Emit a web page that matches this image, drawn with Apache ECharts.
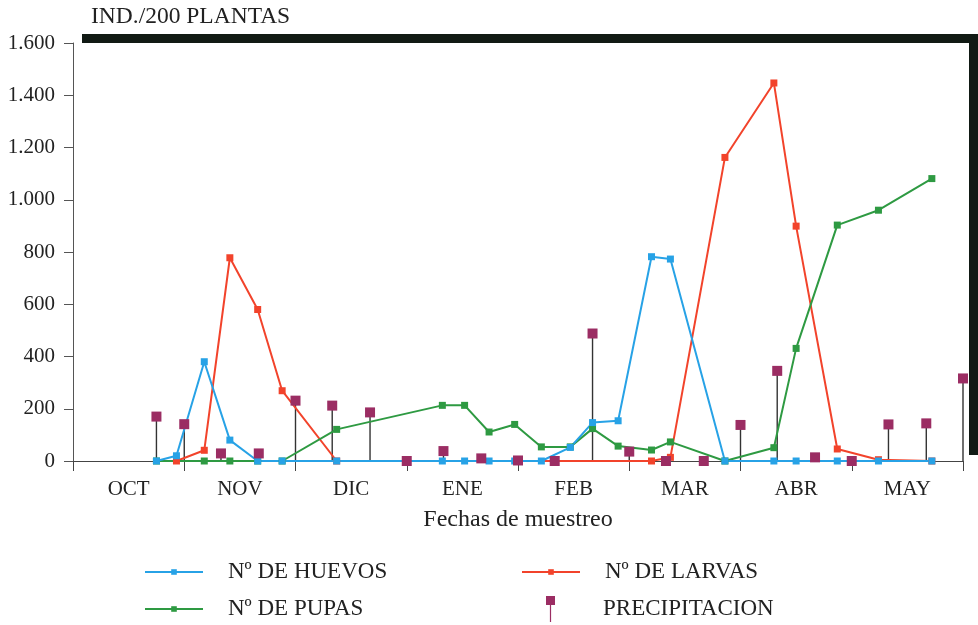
<!DOCTYPE html>
<html>
<head>
<meta charset="utf-8">
<script src="https://cdn.jsdelivr.net/npm/echarts@6/dist/echarts.min.js"></script>
<style>
  html, body { margin: 0; padding: 0; background: #ffffff; }
  #chart { width: 978px; height: 625px; }
</style>
</head>
<body>
<div id="chart"></div>
<script>
// Months of the season (x axis runs in months counted from 1 October)
const meses = ['OCT', 'NOV', 'DIC', 'ENE', 'FEB', 'MAR', 'ABR', 'MAY'];

// Sampling dates, in months since 1 October
const fechasMuestreo = [0.75, 0.93, 1.18, 1.41, 1.66, 1.88, 2.37, 3.32, 3.52, 3.74, 3.97, 4.21,
                        4.47, 4.67, 4.90, 5.20, 5.37, 5.86, 6.30, 6.50, 6.87, 7.24, 7.72];

// Individuals per 200 plants
const huevos = [0, 20, 380, 80, 0, 0, 0, 0, 0, 0, 0, 0,
                52, 147, 154, 782, 773, 0, 0, 0, 0, 0, 0];
const larvas = [null, 0, 41, 778, 580, 269, 0, null, null, null, null, null,
                null, null, null, 0, 14, 1162, 1447, 899, 46, 5, 0];
const pupas  = [0, null, 0, 0, 0, 0, 121, 213, 213, 111, 140, 54,
                54, 124, 57, 42, 73, 0, 51, 431, 903, 960, 1081];

// Rainfall by ten-day period (end of each period, months since 1 October)
const fechasPrecip = [0.75, 1.00, 1.33, 1.67, 2.00, 2.33, 2.67, 3.00, 3.33, 3.67, 4.00, 4.33,
                      4.67, 5.00, 5.33, 5.67, 6.00, 6.33, 6.67, 7.00, 7.33, 7.67, 8.00];
const precipitacion = [170, 141, 29, 29, 231, 212, 186, 0, 38, 10, 2, 0,
                       488, 36, 0, 0, 138, 345, 14, 0, 140, 144, 316];

const FONT = 'Liberation Serif';
const TEXT = '#222222';
const AZUL = '#27a2e6';
const ROJO = '#f2432b';
const VERDE = '#2e9a42';
const MORADO = '#9b2d63';
const NEGRO = '#111a14';

const pares = (xs, ys) => xs.map((x, i) => [x, ys[i]]);
const miles = v => String(v).replace(/\B(?=(\d{3})+(?!\d))/g, '.');

// ticks at month boundaries, month names centred in each month
const limitesMes = meses.map((m, i) => i).concat(meses.length);
const centrosMes = meses.map((m, i) => i + 0.5);

const lineSeries = (name, values, color) => ({
  type: 'line',
  name: name,
  data: pares(fechasMuestreo, values),
  connectNulls: true,
  symbol: 'rect',
  symbolSize: 7,
  lineStyle: { width: 2, color: color },
  itemStyle: { color: color },
  z: 2
});

// one legend entry per component, laid out in two columns
const entrada = (item, left, top, itemWidth, itemHeight, gap) => ({
  data: [item],
  orient: 'horizontal',
  left: left,
  top: top,
  padding: 0,
  itemWidth: itemWidth,
  itemHeight: itemHeight,
  selectedMode: false,
  textStyle: { fontFamily: FONT, fontSize: 23, color: TEXT, lineHeight: 26, padding: [0, 0, 0, gap] }
});

const chart = echarts.init(document.getElementById('chart'), null, { renderer: 'canvas' });

chart.setOption({
  backgroundColor: '#ffffff',
  animation: false,
  textStyle: { fontFamily: FONT },
  grid: { left: 73, right: 15, top: 43, bottom: 164, containLabel: false, outerBoundsMode: 'none' },
  xAxis: {
    type: 'value',
    min: 0,
    max: 8,
    interval: 1,
    axisLine: { lineStyle: { color: '#444444', width: 1 } },
    axisTick: { show: true, length: 10, customValues: limitesMes, lineStyle: { color: '#444444' } },
    splitLine: { show: false },
    axisLabel: {
      customValues: centrosMes,
      formatter: v => meses[Math.floor(v)],
      fontFamily: FONT,
      fontSize: 21,
      lineHeight: 21,
      color: TEXT,
      margin: 18
    },
    name: 'Fechas de muestreo',
    nameLocation: 'middle',
    nameGap: 59,
    nameTextStyle: { fontFamily: FONT, fontSize: 24, color: TEXT, verticalAlign: 'middle' }
  },
  yAxis: {
    type: 'value',
    min: 0,
    max: 1600,
    interval: 200,
    axisLine: { show: true, lineStyle: { color: '#555555', width: 1 } },
    axisTick: { show: true, length: 9, lineStyle: { color: '#555555' } },
    splitLine: { show: false },
    axisLabel: { fontFamily: FONT, fontSize: 21, color: TEXT, margin: 18, formatter: miles, showMinLabel: true },
    name: 'IND./200 PLANTAS',
    nameLocation: 'end',
    nameGap: 26,
    nameTextStyle: {
      fontFamily: FONT, fontSize: 23.5, color: TEXT,
      align: 'left', verticalAlign: 'middle', padding: [0, 0, 0, 18]
    }
  },
  legend: [
    entrada('Nº DE HUEVOS', 144, 559, 58, 7, 20),
    entrada('Nº DE PUPAS', 144, 596, 58, 7, 20),
    entrada('Nº DE LARVAS', 521, 559, 58, 7, 20),
    entrada({ name: 'PRECIPITACION', icon: 'path://M0,0H9V9H0ZM3.9,9H5.1V26H3.9Z' }, 546, 596, 9, 26, 43)
  ],
  series: [
    lineSeries('Nº DE LARVAS', larvas, ROJO),
    lineSeries('Nº DE PUPAS', pupas, VERDE),
    lineSeries('Nº DE HUEVOS', huevos, AZUL),
    {
      type: 'scatter',
      name: 'PRECIPITACION',
      data: pares(fechasPrecip, precipitacion),
      symbol: 'rect',
      symbolSize: 10,
      itemStyle: { color: MORADO, opacity: 1 },
      z: 4
    },
    {
      // thin stems from the axis up to each rainfall marker
      type: 'bar',
      name: 'PRECIPITACION',
      data: pares(fechasPrecip, precipitacion),
      barWidth: 1.4,
      itemStyle: { color: '#333333' },
      z: 1
    }
  ],
  graphic: [
    { type: 'rect', shape: { x: 82, y: 34, width: 896, height: 9 }, style: { fill: NEGRO }, z: 100 },
    { type: 'rect', shape: { x: 969, y: 34, width: 9, height: 421 }, style: { fill: NEGRO }, z: 100 }
  ]
});
</script>
</body>
</html>
